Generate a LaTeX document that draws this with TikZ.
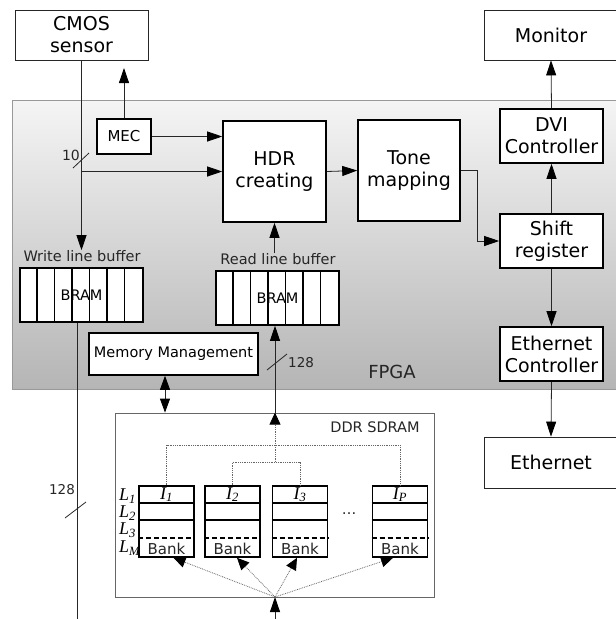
\documentclass[tikz,border=0pt]{standalone}
\usepackage{fontspec}
\setmainfont{DejaVu Sans}
\newfontfamily\serifit{Liberation Serif}
\usetikzlibrary{arrows.meta,calc}
\begin{document}
\begin{tikzpicture}[x=1pt,y=-1pt,
  bigtxt/.style={font=\fontsize{19}{22}\selectfont},
  midtxt/.style={font=\fontsize{14.5}{17}\selectfont},
  outbox/.style={draw=black!85, line width=0.8pt, fill=white, inner sep=0pt, bigtxt, align=center},
  inbox/.style={draw=black, line width=1.6pt, fill=white, inner sep=0pt, bigtxt, align=center},
  bufbox/.style={draw=black, line width=1.6pt, fill=white, inner sep=0pt, minimum width=123, minimum height=54, midtxt},
  bankbox/.style={draw=black, line width=1.6pt, fill=white, inner sep=0pt, minimum width=55, minimum height=71},
  conn/.style={draw=black!85, line width=0.8pt},
  arr/.style={conn, -{Triangle[length=15pt,width=10pt,color=black]}},
  dblarr/.style={conn, {Triangle[length=14pt,width=10pt,color=black]}-{Triangle[length=14pt,width=10pt,color=black]}},
  dots/.style={draw=black!60, line width=0.8pt, densely dotted},
  dotarr/.style={dots, -{Triangle[length=12pt,width=11pt,color=black]}},
  lbl/.style={inner sep=0pt, text=black!85},
  serif/.style={inner sep=0pt, font=\fontsize{18}{18}\selectfont\serifit\itshape}
]
\useasboundingbox (0,0) rectangle (616,619);

% FPGA area
\shade[top color=black!4, bottom color=black!29, draw=black!40, line width=0.8pt] (12,100) rectangle (630,389);
\node[lbl, font=\fontsize{18}{20}\selectfont] (fpga) at (392,372) {FPGA};

% external boxes
\node[outbox, minimum width=133, minimum height=50] (cmos) at (81.5,35) {CMOS\\sensor};
\node[outbox, minimum width=134, minimum height=50] (monitor) at (551,35) {Monitor};
\node[outbox, minimum width=134, minimum height=51] (ethernet) at (551,462.5) {Ethernet};

% FPGA boxes
\node[inbox, minimum width=54, minimum height=35, font=\fontsize{15}{17}\selectfont] (mec) at (124,136.5) {MEC};
\node[inbox, minimum width=103, minimum height=101] (hdr) at (274.5,171.5) {HDR\\creating};
\node[inbox, minimum width=102, minimum height=101] (tone) at (409,170.5) {Tone\\mapping};
\node[inbox, minimum width=103, minimum height=54] (dvi) at (551.5,136) {DVI\\Controller};
\node[inbox, minimum width=103, minimum height=54] (shift) at (551.5,241) {Shift\\register};
\node[inbox, minimum width=103, minimum height=54] (ethc) at (551.5,354) {Ethernet\\Controller};
\node[inbox, minimum width=169, minimum height=42, midtxt] (mem) at (173.5,354) {Memory Management};

% line buffers
\node[lbl, midtxt] (wlab) at (82,256) {Write line buffer};
\node[bufbox] (wbuf) at (81.5,295) {BRAM};
\node[lbl, midtxt] (rlab) at (278,259) {Read line buffer};
\node[bufbox] (rbuf) at (277.5,298) {BRAM};
\foreach \bb in {wbuf,rbuf}{
  \foreach \i in {1,...,6}{
    \draw[line width=1.6pt] ($(\bb.north west)+(\i*17.571,0)$) -- ($(\bb.south west)+(\i*17.571,0)$);
  }
}

% DDR SDRAM
\node[draw=black!60, line width=0.8pt, fill=white, minimum width=319, minimum height=184, inner sep=0pt] (ddr) at (274.5,505) {};
\node[lbl, midtxt] (ddrlab) at (375,427) {DDR SDRAM};

\node[bankbox] (b1) at (166.5,521.5) {};
\node[bankbox] (b2) at (232.5,521.5) {};
\node[bankbox] (b3) at (300,521.5) {};
\node[bankbox] (bp) at (400,521.5) {};
\foreach \bb/\ii in {b1/1,b2/2,b3/3,bp/P}{
  \draw[line width=1.6pt] ($(\bb.north west)+(0,18)$) -- ($(\bb.north east)+(0,18)$);
  \draw[line width=1.6pt] ($(\bb.north west)+(0,35)$) -- ($(\bb.north east)+(0,35)$);
  \draw[line width=1.6pt, dashed, dash pattern=on 5pt off 3pt] ($(\bb.north west)+(0,53)$) -- ($(\bb.north east)+(0,53)$);
  \node[serif] at ($(\bb.north)+(0,9.5)$) {I\textsubscript{\ii}};
  \node[lbl, font=\fontsize{15}{17}\selectfont] at ($(\bb.south)+(0,-9)$) {Bank};
}
\node[serif, anchor=west] (l1) at (119,496) {L\textsubscript{1}};
\node[serif, anchor=west] (l2) at (119,513) {L\textsubscript{2}};
\node[serif, anchor=west] (l3) at (119,530) {L\textsubscript{3}};
\node[serif, anchor=west] (lm) at (119,548) {L\textsubscript{M}};
\node[lbl, midtxt] (ell) at (349,514) {\dots};

% coordinates
\coordinate (mecout) at (124,68);
\coordinate (ddrin) at (275,597);
\coordinate (botin) at (275,625);
\coordinate (wbot) at (77,625);
\coordinate (memx) at (165,0);
\coordinate (s10) at (81.5,160.5);
\coordinate (s128a) at (77,510);
\coordinate (s128b) at (275,362);
\coordinate (split) at (275,462);

% connectors top
\draw[arr] (cmos.south) -- (cmos.south |- wlab.north);
\draw[arr] (cmos.south |- hdr.west) -- (hdr.west);
\draw[arr] (mec.east) -- (mec.east -| hdr.west);
\draw[arr] (mec.north) -- (mecout);
\draw[arr] (hdr.east) -- (tone.west);
\draw[arr] (tone.east) -- ++(17,0) |- (shift.west);
\draw[arr] (shift.north) -- (dvi.south);
\draw[arr] (dvi.north) -- (monitor.south);
\draw[arr] (shift.south) -- (ethc.north);
\draw[arr] (ethc.south) -- (ethernet.north);
\draw[arr] (rlab.north -| hdr.south) -- (hdr.south);
\draw[arr] (ddr.north -| split) -- (rbuf.south -| split);
\draw[dblarr] (memx |- mem.south) -- (memx |- ddr.north);
\draw[conn] (wbot |- wbuf.south) -- (wbot);

% bus width marks
\draw[conn] ($(s10)+(-8.5,7.5)$) -- ($(s10)+(7.5,-7.5)$);
\node[lbl, font=\fontsize{14}{16}\selectfont] (n10) at (71,155) {10};
\draw[conn] ($(s128a)+(-12,8)$) -- ($(s128a)+(9,-8)$);
\node[lbl, font=\fontsize{13.5}{16}\selectfont] (n128a) at (62,490) {128};
\draw[conn] ($(s128b)+(-8,8)$) -- ($(s128b)+(12,-8)$);
\node[lbl, font=\fontsize{13.5}{16}\selectfont, anchor=west] (n128b) at (288,363) {128};

% DDR internal
\draw[dotarr] (split) -- (ddr.north -| split);
\draw[dots] (b1.north) |- (split |- 0,445) -| (bp.north);
\draw[dots] (b2.north) |- (split) -| (b3.north);
\draw[arr] (botin) -- (ddrin);
\draw[dotarr] (ddrin) -- ($(b1.south)+(7,0)$);
\draw[dotarr] (ddrin) -- ($(b2.south)+(4.5,0)$);
\draw[dotarr] (ddrin) -- ($(b3.south)+(-3,0)$);
\draw[dotarr] (ddrin) -- ($(bp.south)+(-7,0)$);
\end{tikzpicture}
\end{document}
